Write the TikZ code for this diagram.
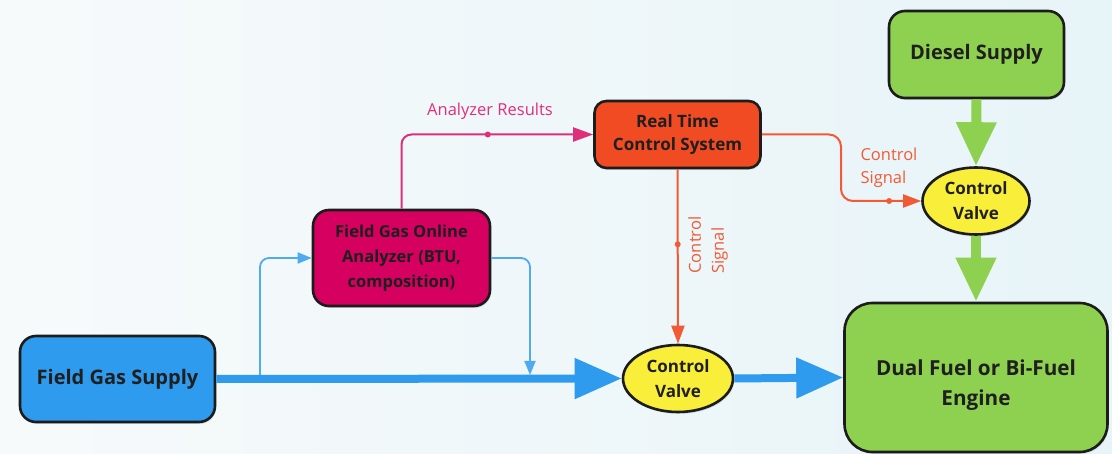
\documentclass[tikz,border=0pt]{standalone}
\usepackage{fontspec}
\setmainfont{Open Sans}
\usetikzlibrary{arrows.meta,shapes.geometric,shadows,calc}
\definecolor{bgl}{HTML}{F7FAFB}
\definecolor{bgr}{HTML}{E7F4F8}
\definecolor{cblue}{HTML}{2E9BEE}
\definecolor{lblue}{HTML}{4FAAF2}
\definecolor{cpink}{HTML}{D5005F}
\definecolor{lpink}{HTML}{DE2F7B}
\definecolor{corange}{HTML}{F04B23}
\definecolor{lorange}{HTML}{F15A35}
\definecolor{cgreen}{HTML}{8ED150}
\definecolor{cyellow}{HTML}{F9EE3A}
\definecolor{border}{HTML}{1C1C1C}
\definecolor{btext}{HTML}{1F1F1F}
\tikzset{
  box/.style={draw=border, line width=2.6pt, rounded corners=16pt, align=center,
    font=\bfseries\fontsize{16.5}{25}\selectfont, text=btext,
    drop shadow={shadow xshift=1pt, shadow yshift=-2pt, opacity=0.2}},
  valve/.style={ellipse, draw=border, line width=2.6pt, fill=cyellow, align=center,
    inner sep=0pt, font=\bfseries\fontsize{17}{25}\selectfont, text=btext,
    drop shadow={shadow xshift=1pt, shadow yshift=-2pt, opacity=0.2}},
  lbl/.style={font=\fontsize{16.5}{23}\selectfont, align=left},
  thickblue/.style={cblue, line width=8pt, -{Triangle[length=47pt,width=39pt]}},
  thinblue/.style={lblue, line width=1.8pt, rounded corners=9pt, -{Triangle[length=14pt,width=11pt]}},
  pinkline/.style={lpink, line width=2pt, rounded corners=10pt, -{Triangle[length=20pt,width=14pt]}},
  orangeline/.style={lorange, line width=2pt, rounded corners=12pt, -{Triangle[length=18pt,width=13pt]}},
  greenarrow/.style={cgreen, line width=10pt, -{Triangle[length=44pt,width=38pt]}},
  dot/.style={circle, inner sep=0pt, minimum size=6pt}
}
\begin{document}
\begin{tikzpicture}[x=1pt,y=-1pt]
\useasboundingbox (0,0) rectangle (1112,454);
\shade[left color=bgl, right color=bgr] (0,0) rectangle (1112,454);

% nodes
\node[box, fill=cblue, minimum width=195pt, minimum height=86pt,
  font=\bfseries\fontsize{20}{25}\selectfont] (fgs) at (117.5,379) {Field Gas Supply};
\node[box, fill=cpink, minimum width=177pt, minimum height=96pt] (ana) at (401.5,258) {Field Gas Online\\Analyzer (BTU,\\composition)};
\node[box, fill=corange, minimum width=166pt, minimum height=67pt, rounded corners=12pt,
  font=\bfseries\fontsize{17}{23}\selectfont] (rtcs) at (677.5,134.5) {Real Time\\Control System};
\node[box, fill=cgreen, minimum width=175pt, minimum height=87pt,
  font=\bfseries\fontsize{20}{25}\selectfont] (dsl) at (976.5,54.5) {Diesel Supply};
\node[valve, minimum width=107pt, minimum height=67pt] (cv1) at (976,201) {Control\\Valve};
\node[valve, minimum width=110pt, minimum height=67pt] (cv2) at (678,378.5) {Control\\Valve};
\node[box, fill=cgreen, minimum width=263pt, minimum height=149pt, rounded corners=28pt,
  font=\bfseries\fontsize{20.7}{30}\selectfont] (eng) at (976,377.5) {\rule{0pt}{31pt}Dual Fuel or Bi-Fuel\\Engine};

% coordinates
\coordinate (b1) at (260,379);
\coordinate (b2) at (530,375);
\coordinate (k) at (841,201);

% thin blue branch
\draw[thinblue] (b1) |- (ana.west);
\draw[thinblue] (ana.east) -| (b2);

% thick blue flow
\draw[thickblue] (fgs.east) -- (cv2.west);
\draw[thickblue] (cv2.east) -- (eng.west);

% green flow
\draw[greenarrow] (dsl.south) -- (cv1.north);
\draw[greenarrow] (cv1.south) -- (eng.north);

% pink analyzer results
\draw[pinkline] (ana.north) |- node[dot, fill=lpink, pos=0.725] (pd) {} (rtcs.west);
\node[lbl, text=lpink] (lres) at (490,111) {Analyzer Results};

% orange control signals
\draw[orangeline] (rtcs.south) -- node[dot, fill=lorange, pos=0.43] (od1) {} (cv2.north);
\node[lbl, text=lorange, rotate=90, align=left] (lcs1) at (708,245) {Control\\Signal};
\draw[orangeline] (rtcs.east) -| (k) -- node[dot, fill=lorange, pos=0.6] (od2) {} (cv1.west);
\node[lbl, text=lorange, anchor=west] (lcs2) at (857,168) {Control\\Signal};
\end{tikzpicture}
\end{document}
